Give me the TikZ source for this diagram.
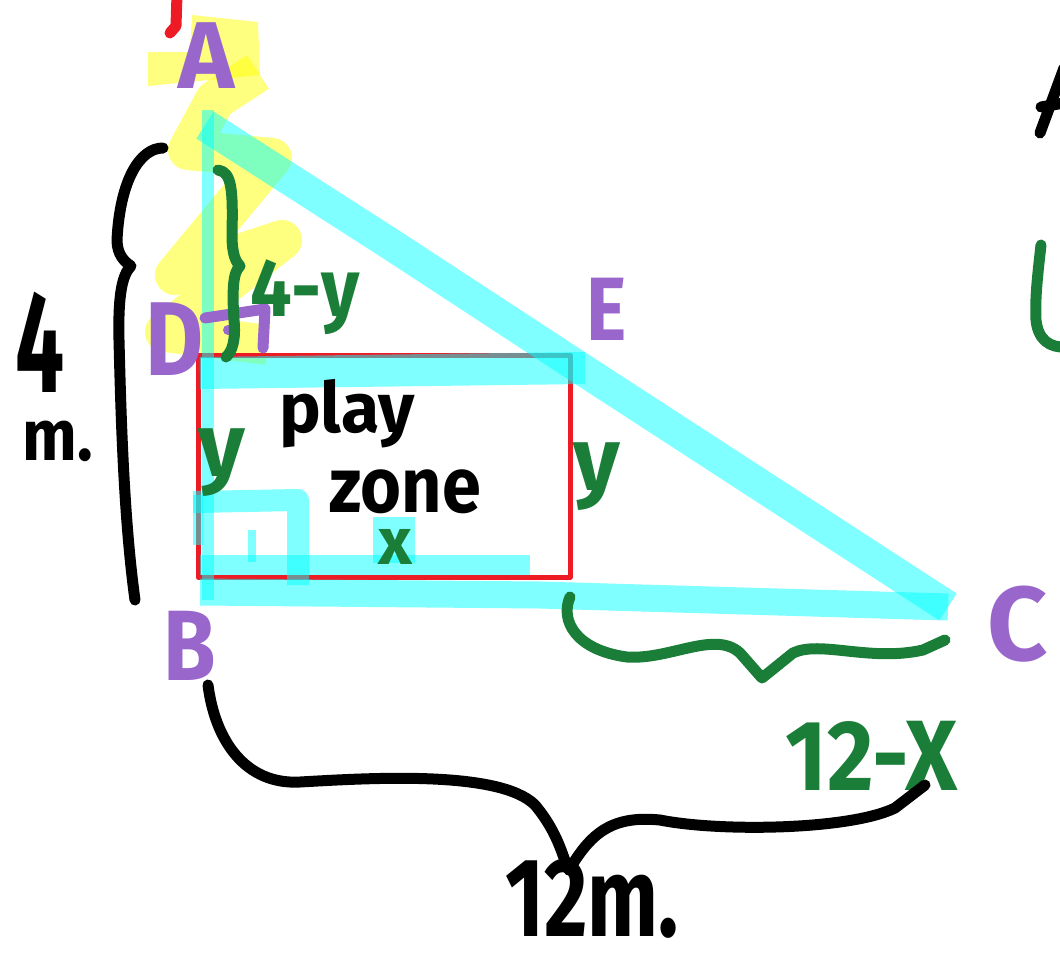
\documentclass[tikz,border=0pt]{standalone}
\usepackage{fontspec}
\setmainfont{Fira Sans}
\definecolor{pur}{HTML}{9966CC}
\definecolor{grn}{HTML}{1A7D38}
\definecolor{redpen}{HTML}{ED1C24}
\definecolor{hlcyan}{HTML}{00FFFF}
\definecolor{hlyellow}{HTML}{FFFF00}
\tikzset{
  cyanhl/.style={draw=hlcyan, draw opacity=0.5, line width=#1, line cap=butt, line join=round},
  cyanhl/.default=30,
  yellowhl/.style={draw=hlyellow, draw opacity=0.5, line width=40, line cap=butt, line join=round},
  pen/.style={line width=11, line cap=round, line join=round},
  lab/.style={anchor=base, inner sep=0pt, outer sep=0pt, text=pur},
  glab/.style={anchor=base, inner sep=0pt, outer sep=0pt, text=grn},
  blab/.style={anchor=base, inner sep=0pt, outer sep=0pt, text=black},
}
\newcommand{\fs}[1]{\fontsize{#1}{#1}\selectfont\bfseries}
\newcommand{\narrow}[2]{\scalebox{#1}[1]{#2}}
\begin{document}
\begin{tikzpicture}[x=1pt,y=-1pt]
\useasboundingbox (0,0) rectangle (1060,953);
% vertices
\coordinate (vA) at (205,125);
\coordinate (vB) at (205,592);
\coordinate (vC) at (948,607);
\coordinate (vD) at (198,355);
\coordinate (vE) at (570,355);
\coordinate (vF) at (570,577);
\coordinate (vG) at (198,577);
% yellow zigzag highlight
\fill[hlyellow, opacity=0.5] (148,52) -- (190,52) -- (192,15) -- (258,22) -- (260,75) -- (148,86) -- cycle;
\draw[yellowhl] (258,72) -- (215,100) -- (188,150) -- (272,158) -- (175,275) -- (282,240) -- (165,332) -- (268,345);
% red rectangle (play zone)
\draw[redpen, line width=5, line join=round] (vD) -- (vE) -- (vF) -- (vG) -- cycle;
% cyan triangle
\draw[cyanhl=12] (208,110) -- (208,600);
\draw[cyanhl=32] (vA) -- (392,245) -- (580,368) -- (vC);
\draw[cyanhl=27] (200,592) -- (540,595) -- (vC);
% cyan scribbles
\draw[cyanhl=32] (200,373) -- (585,368);
\draw[cyanhl=22] (193,502) -- (298,500) -- (298,585);
\draw[cyanhl=10] (198,495) -- (198,545);
\draw[cyanhl=8] (252,530) -- (252,562);
\draw[cyanhl=20] (200,565) -- (530,565);
\fill[hlcyan, opacity=0.5] (373,517) rectangle (415,563);
% red fragment at top
\draw[redpen, pen] (177,-5) -- (176,26) -- (170,33);
% purple labels
\node[lab, font=\fs{95}] (A) at (207,88) {A};
\node[lab, font=\fs{105}] (D) at (175,375) {\narrow{0.85}{D}};
\node[lab, font=\fs{90}] (E) at (607,340) {\narrow{0.85}{E}};
\node[lab, font=\fs{100}] (B) at (190,680) {\narrow{0.85}{B}};
\node[lab, font=\fs{105}] (C) at (1018,660) {C};
% right-angle mark at D
\draw[pur, pen] (205,318) -- (265,309) -- (263,348);
\fill[pur] (228,330) circle (5);
% green brace 4-y
\draw[grn, pen] (218,170) .. controls (232,172) and (233,190) .. (232,235) .. controls (232,255) and (236,262) .. (240,266) .. controls (233,272) and (232,290) .. (234,320) .. controls (236,340) and (232,352) .. (226,357);
\node[glab, font=\fs{82}] (t4y) at (305,316) {\narrow{0.9}{4-y}};
% green labels
\node[glab, font=\fs{90}] (yl) at (222,476) {y};
\node[glab, font=\fs{90}] (yr) at (597,490) {y};
\node[glab, font=\fs{66}] (x) at (395,564) {x};
\node[glab, font=\fs{100}] (t12x) at (872,790) {\narrow{0.9}{12-X}};
% green brace 12-x
\coordinate (gb1) at (570,597);
\coordinate (gb2) at (762,678);
\coordinate (gb3) at (945,640);
\draw[grn, pen] (gb1) .. controls (560,620) and (575,650) .. (627,657) .. controls (670,660) and (715,630) .. (740,653) -- (gb2) -- (793,653) .. controls (820,640) and (870,662) .. (923,650) -- (gb3);
% black left brace 4 m.
\coordinate (lb1) at (163,148);
\coordinate (lb2) at (135,600);
\draw[black, pen] (lb1) .. controls (140,148) and (120,180) .. (117,240) .. controls (117,255) and (125,262) .. (131,266) .. controls (122,275) and (118,295) .. (119,340) .. controls (121,420) and (124,520) .. (lb2);
\node[blab, font=\fs{145}] (four) at (40,392) {\narrow{0.6}{4}};
\node[blab, font=\fs{72}] (m1) at (58,460) {\narrow{0.9}{m.}};
% play zone text
\node[blab, font=\fs{70}] (play) at (347,432) {play};
\node[blab, font=\fs{78}] (zone) at (405,512) {\narrow{0.9}{zone}};
% black bottom brace 12 m.
\coordinate (bb1) at (208,685);
\coordinate (bb2) at (569,870);
\coordinate (bb3) at (925,785);
\draw[black, pen] (bb1) .. controls (215,740) and (245,785) .. (300,782) .. controls (370,778) and (500,770) .. (535,805) .. controls (560,835) and (563,860) .. (bb2) .. controls (590,835) and (610,815) .. (660,820) .. controls (720,832) and (850,830) .. (895,808) -- (bb3);
\node[blab, font=\fs{112}] (t12m) at (592,936) {\narrow{0.75}{12m.}};
% fragments at right edge
\draw[black, pen] (1040,133) -- (1064,68);
\draw[black, pen] (1041,107) -- (1064,103);
\draw[grn, pen] (1041,245) .. controls (1037,280) and (1035,300) .. (1036,320) .. controls (1038,340) and (1050,348) .. (1066,347);
\end{tikzpicture}
\end{document}
